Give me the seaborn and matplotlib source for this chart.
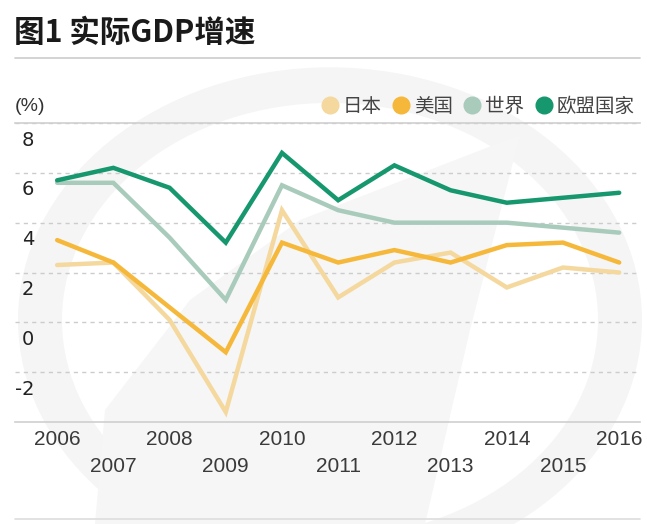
import pandas as pd
import seaborn as sns
import matplotlib.pyplot as plt
from matplotlib.lines import Line2D
from matplotlib.patches import Wedge, Polygon
from matplotlib.transforms import ScaledTranslation

years = list(range(2006, 2017))
series_names = ['日本', '美国', '世界', '欧盟国家']
japan = [2.3, 2.4, 0.1, -3.6, 4.5, 1.0, 2.4, 2.8, 1.4, 2.2, 2.0]
usa = [3.3, 2.4, 0.6, -1.2, 3.2, 2.4, 2.9, 2.4, 3.1, 3.2, 2.4]
world = [5.6, 5.6, 3.4, 0.9, 5.5, 4.5, 4.0, 4.0, 4.0, 3.8, 3.6]
eu = [5.7, 6.2, 5.4, 3.2, 6.8, 4.9, 6.3, 5.3, 4.8, 5.0, 5.2]
colors = ['#f4d89e', '#f5b83a', '#a8cbbc', '#16976e']
y_ticks = [8, 6, 4, 2, 0, -2]

df = pd.DataFrame({
    'year': years * 4,
    'value': japan + usa + world + eu,
    'series': sum([[n] * len(years) for n in series_names], []),
})

sns.set_theme(style='white')
plt.rcParams['font.family'] = ['Noto Sans CJK SC', 'DejaVu Sans']

W, H = 647, 524
fig = plt.figure(figsize=(W / 100, H / 100), dpi=100)
fig.patch.set_facecolor('white')


def px(x, y):
    # pixel position (from top-left) -> figure fraction
    return (x / W, 1 - y / H)


# faint watermark behind the chart
fig.patches.append(Wedge(px(330, 320), 312 / W, 0, 360, width=44 / W,
                         transform=fig.transFigure, facecolor='#f5f5f5',
                         edgecolor='none', zorder=-5))
poly = [px(95, 524), px(105, 410), px(190, 300), px(300, 220), px(520, 135),
        px(470, 330), px(425, 524)]
fig.patches.append(Polygon(poly, closed=True, transform=fig.transFigure,
                           facecolor='#f6f6f6', edgecolor='none', zorder=-5))

ax = fig.add_axes([15 / W, 1 - 422 / H, 625 / W, 299 / H])
ax.set_zorder(2)
ax.patch.set_alpha(0)

sns.lineplot(data=df, x='year', y='value', hue='series', hue_order=series_names,
             palette=colors, linewidth=3.2, legend=False, ax=ax,
             solid_joinstyle='miter')

ax.set_xlim(2005.25, 2016.37)
ax.set_ylim(-4, 8)
ax.set_xlabel('')
ax.set_ylabel('')

for side in ['left', 'right']:
    ax.spines[side].set_visible(False)
for side in ['top', 'bottom']:
    ax.spines[side].set_color('#cfcfcf')
    ax.spines[side].set_linewidth(1.2)
    ax.spines[side].set_zorder(5)

ax.set_yticks(y_ticks)
ax.set_yticklabels([str(v) for v in y_ticks])
ax.yaxis.grid(True, linestyle=(0, (3, 3)), color='#cccccc', linewidth=1)
ax.xaxis.grid(False)
ax.tick_params(axis='y', length=0, pad=0, labelsize=14, labelcolor='#222222')
for lab in ax.get_yticklabels():
    lab.set_horizontalalignment('right')
    lab.set_fontfamily('DejaVu Sans')
    lab.set_transform(lab.get_transform() + ScaledTranslation(0.19, -0.15, fig.dpi_scale_trans))

ax.set_xticks(years)
ax.set_xticklabels([str(y) for y in years])
ax.tick_params(axis='x', length=0, pad=6, labelsize=15, labelcolor='#3a3a3a')
for i, lab in enumerate(ax.get_xticklabels()):
    lab.set_fontfamily('Liberation Sans')
    if i % 2 == 1:
        lab.set_transform(lab.get_transform() + ScaledTranslation(0, -0.27, fig.dpi_scale_trans))

# title and rules
fig.text(14 / W, 1 - 33 / H, '图1 实际GDP增速', fontsize=22, fontweight='bold',
         color='#1a1a1a', va='center', ha='left')
fig.add_artist(Line2D([15 / W, 640 / W], [1 - 58 / H, 1 - 58 / H], color='#cccccc', linewidth=1.2))
fig.add_artist(Line2D([15 / W, 640 / W], [1 - 519 / H, 1 - 519 / H], color='#dddddd', linewidth=1.2))

fig.text(15 / W, 1 - 106 / H, '(%)', fontsize=14, color='#333333', va='center', ha='left',
         family='Liberation Sans')

handles = [Line2D([], [], marker='o', linestyle='', markersize=12, color=c) for c in colors]
fig.legend(handles, series_names, loc='center right', bbox_to_anchor=(642 / W, 1 - 106 / H),
           ncol=4, frameon=False, fontsize=14, handletextpad=0.15, columnspacing=0.5,
           handlelength=1.0, borderaxespad=0, labelcolor='#444444')

fig.savefig('out.png', dpi=100, facecolor='white')
